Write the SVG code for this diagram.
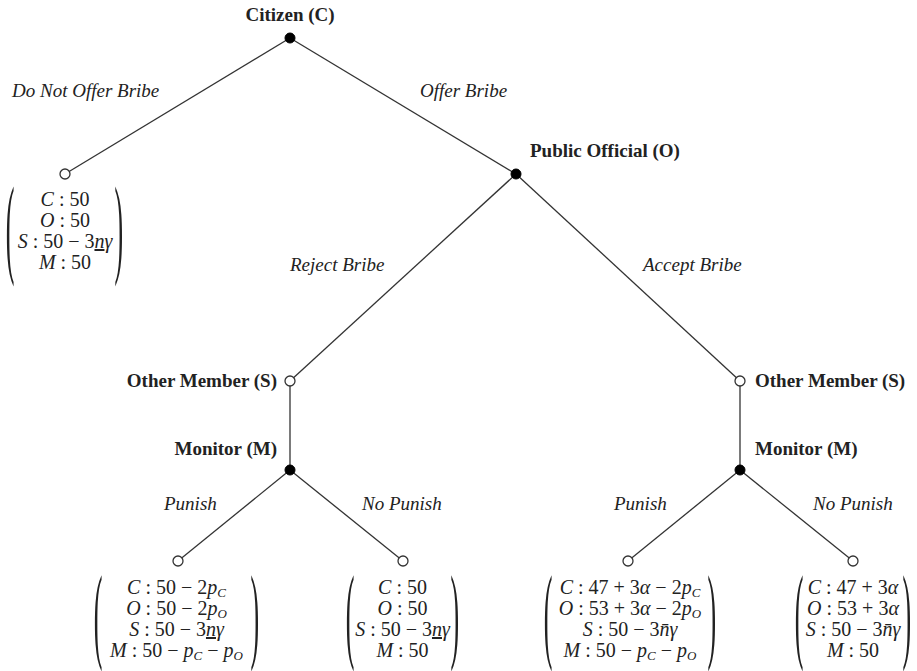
<svg xmlns="http://www.w3.org/2000/svg" width="917" height="671" viewBox="0 0 917 671">
<style>
.lbl{font-family:"Liberation Serif","Times New Roman",serif;font-size:19px;font-weight:bold;fill:#222}
.act{font-family:"Liberation Serif","Times New Roman",serif;font-size:19px;font-style:italic;fill:#222}
.m{font-family:"Liberation Serif","Times New Roman",serif;font-size:20px;fill:#222;text-anchor:middle}
.i{font-style:italic}
.s{font-style:italic;font-size:13px}
.par{font-family:"Liberation Serif","Times New Roman",serif;font-size:26px;fill:#222}
.edge{stroke:#333;stroke-width:1.3;fill:none}
.dec{fill:#000;stroke:#000;stroke-width:1}
.term{fill:#fff;stroke:#333;stroke-width:1.3}
</style>
<rect width="917" height="671" fill="#fff"/>
<g id="connectors">
<line class="edge" x1="290" y1="38" x2="65" y2="174"/>
<line class="edge" x1="290" y1="38" x2="516" y2="174"/>
<line class="edge" x1="516" y1="174" x2="290" y2="381"/>
<line class="edge" x1="516" y1="174" x2="740" y2="381"/>
<line class="edge" x1="290" y1="381" x2="290" y2="470"/>
<line class="edge" x1="740" y1="381" x2="740" y2="470"/>
<line class="edge" x1="290" y1="470" x2="178" y2="561"/>
<line class="edge" x1="290" y1="470" x2="403" y2="561"/>
<line class="edge" x1="740" y1="470" x2="628" y2="561"/>
<line class="edge" x1="740" y1="470" x2="853" y2="561"/>
</g>
<g id="edge-labels">
<text class="act" x="12" y="97">Do Not Offer Bribe</text>
<text class="act" x="420" y="97">Offer Bribe</text>
<text class="act" x="290" y="271">Reject Bribe</text>
<text class="act" x="643" y="271">Accept Bribe</text>
<text class="act" x="164" y="510">Punish</text>
<text class="act" x="362" y="510">No Punish</text>
<text class="act" x="614" y="510">Punish</text>
<text class="act" x="813" y="510">No Punish</text>
</g>
<g id="citizen">
<circle class="dec" cx="290" cy="38" r="5"/>
<text class="lbl" x="290" y="21" text-anchor="middle">Citizen (C)</text>
</g>
<g id="official">
<circle class="dec" cx="516" cy="174" r="5"/>
<text class="lbl" x="530" y="157">Public Official (O)</text>
</g>
<g id="member-left">
<circle class="term" cx="290" cy="381" r="5"/>
<text class="lbl" x="277" y="387" text-anchor="end">Other Member (S)</text>
</g>
<g id="monitor-left">
<circle class="dec" cx="290" cy="470" r="5"/>
<text class="lbl" x="277" y="455" text-anchor="end">Monitor (M)</text>
</g>
<g id="member-right">
<circle class="term" cx="740" cy="381" r="5"/>
<text class="lbl" x="755" y="387">Other Member (S)</text>
</g>
<g id="monitor-right">
<circle class="dec" cx="740" cy="470" r="5"/>
<text class="lbl" x="755" y="455">Monitor (M)</text>
</g>
<g id="leaf-no-offer">
<circle class="term" cx="65" cy="174" r="5"/>
<text class="par" transform="translate(5.75,262.5) scale(1,4.24)">(</text>
<text class="par" transform="translate(114.6,262.5) scale(1,4.24)">)</text>
<text class="m" x="65" y="206"><tspan class="i">C</tspan> : 50</text>
<text class="m" x="65" y="227"><tspan class="i">O</tspan> : 50</text>
<text class="m" x="65" y="248"><tspan class="i">S</tspan> : 50 − 3<tspan class="i" text-decoration="underline">n</tspan><tspan class="i">γ</tspan></text>
<text class="m" x="65" y="269"><tspan class="i">M</tspan> : 50</text>
</g>
<g id="leaf-reject-punish">
<circle class="term" cx="178" cy="561" r="5"/>
<text class="par" transform="translate(93.75,649) scale(1,4.1)">(</text>
<text class="par" transform="translate(250.6,649) scale(1,4.1)">)</text>
<text class="m" x="176.5" y="594"><tspan class="i">C</tspan> : 50 − 2<tspan class="i">p</tspan><tspan class="s" dy="3">C</tspan></text>
<text class="m" x="176.5" y="615"><tspan class="i">O</tspan> : 50 − 2<tspan class="i">p</tspan><tspan class="s" dy="3">O</tspan></text>
<text class="m" x="176.5" y="636"><tspan class="i">S</tspan> : 50 − 3<tspan class="i" text-decoration="underline">n</tspan><tspan class="i">γ</tspan></text>
<text class="m" x="176.5" y="657"><tspan class="i">M</tspan> : 50 − <tspan class="i">p</tspan><tspan class="s" dy="3">C</tspan><tspan dy="-3"> − </tspan><tspan class="i">p</tspan><tspan class="s" dy="3">O</tspan></text>
</g>
<g id="leaf-reject-nopunish">
<circle class="term" cx="403" cy="561" r="5"/>
<text class="par" transform="translate(345.75,649) scale(1,4.1)">(</text>
<text class="par" transform="translate(450.6,649) scale(1,4.1)">)</text>
<text class="m" x="402.5" y="594"><tspan class="i">C</tspan> : 50</text>
<text class="m" x="402.5" y="615"><tspan class="i">O</tspan> : 50</text>
<text class="m" x="402.5" y="636"><tspan class="i">S</tspan> : 50 − 3<tspan class="i" text-decoration="underline">n</tspan><tspan class="i">γ</tspan></text>
<text class="m" x="402.5" y="657"><tspan class="i">M</tspan> : 50</text>
</g>
<g id="leaf-accept-punish">
<circle class="term" cx="628" cy="561" r="5"/>
<text class="par" transform="translate(543.75,649) scale(1,4.1)">(</text>
<text class="par" transform="translate(707.6,649) scale(1,4.1)">)</text>
<text class="m" x="630" y="594"><tspan class="i">C</tspan> : 47 + 3<tspan class="i">α</tspan> − 2<tspan class="i">p</tspan><tspan class="s" dy="3">C</tspan></text>
<text class="m" x="630" y="615"><tspan class="i">O</tspan> : 53 + 3<tspan class="i">α</tspan> − 2<tspan class="i">p</tspan><tspan class="s" dy="3">O</tspan></text>
<text class="m" x="630" y="636"><tspan class="i">S</tspan> : 50 − 3<tspan class="i">n̄γ</tspan></text>
<text class="m" x="630" y="657"><tspan class="i">M</tspan> : 50 − <tspan class="i">p</tspan><tspan class="s" dy="3">C</tspan><tspan dy="-3"> − </tspan><tspan class="i">p</tspan><tspan class="s" dy="3">O</tspan></text>
</g>
<g id="leaf-accept-nopunish">
<circle class="term" cx="853" cy="561" r="5"/>
<text class="par" transform="translate(794.75,649) scale(1,4.1)">(</text>
<text class="par" transform="translate(902.6,649) scale(1,4.1)">)</text>
<text class="m" x="853" y="594"><tspan class="i">C</tspan> : 47 + 3<tspan class="i">α</tspan></text>
<text class="m" x="853" y="615"><tspan class="i">O</tspan> : 53 + 3<tspan class="i">α</tspan></text>
<text class="m" x="853" y="636"><tspan class="i">S</tspan> : 50 − 3<tspan class="i">n̄γ</tspan></text>
<text class="m" x="853" y="657"><tspan class="i">M</tspan> : 50</text>
</g>
</svg>
